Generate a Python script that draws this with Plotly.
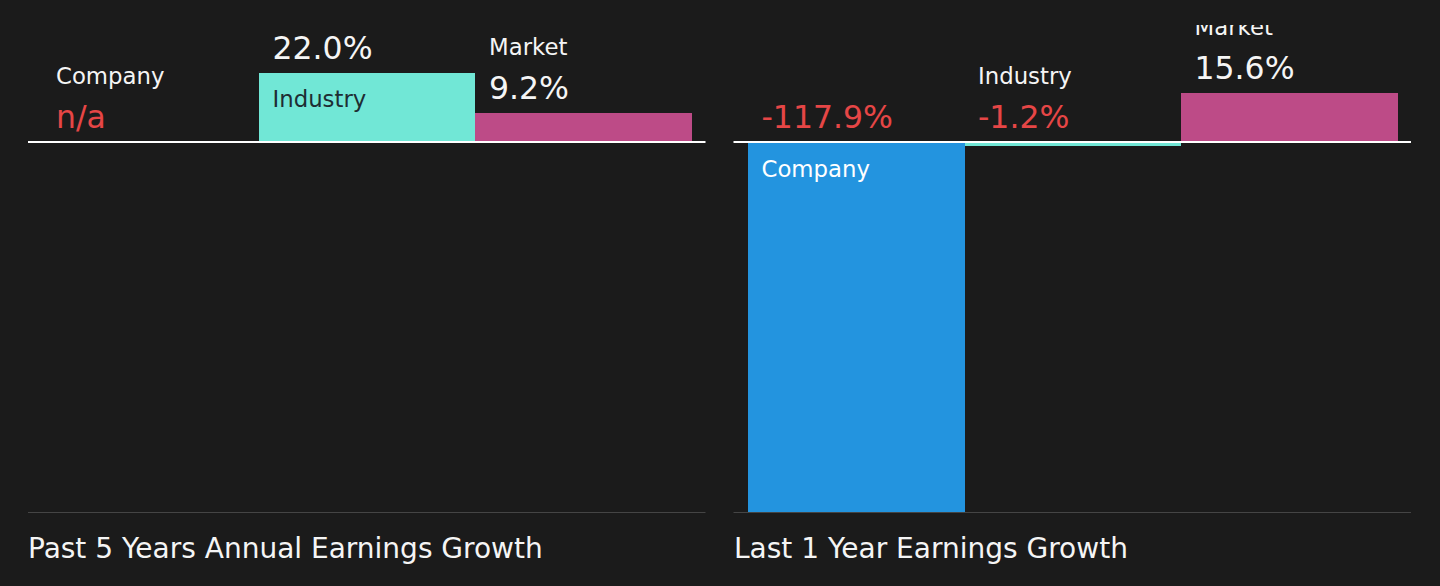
import plotly.graph_objects as go

# data
categories = ["Company", "Industry", "Market"]
past_5y_growth = [None, 22.0, 9.2]      # Company value is n/a
last_1y_growth = [-117.9, -1.2, 15.6]
panel_titles = ["Past 5 Years Annual Earnings Growth", "Last 1 Year Earnings Growth"]

# styling
BG = "#1b1b1b"
BAR_COLORS = {"Company": "#2394df", "Industry": "#71e7d6", "Market": "#bd4b87"}
INSIDE_TEXT = {"Company": "#ffffff", "Industry": "#1e2d33", "Market": "#ffffff"}
RED = "#e64646"
WHITE = "#f5f5f5"
FONT = "DejaVu Sans"

W, H = 1440, 586
M_L, M_R, M_T, M_B = 28, 29, 25, 73
ZERO_PX = 142            # pixel row of the zero line
PLOT_H = H - M_T - M_B
PLOT_W = W - M_L - M_R
GAP_PX = 28              # gap between the two panels
PAD_PX = 14              # space between panel edge and first/last bar

all_vals = [v for v in past_5y_growth + last_1y_growth if v is not None]
y_min = min(all_vals)
y_max = -y_min * (ZERO_PX - M_T) / (H - M_B - ZERO_PX)
px_per_unit = PLOT_H / (y_max - y_min)

panel_w = (PLOT_W - GAP_PX) / 2
bar_px = (panel_w - 2 * PAD_PX) / 3
pad = PAD_PX / bar_px
x_range = [-0.5 - pad, 2.5 + pad]

fig = go.Figure()


def add_panel(values, xa, ya):
    xs = list(range(len(categories)))
    fig.add_trace(go.Bar(
        x=xs, y=values, width=1,
        marker=dict(color=[BAR_COLORS[c] for c in categories], line=dict(width=0)),
        xaxis=xa, yaxis=ya, hoverinfo="skip", showlegend=False,
    ))

    name_y, name_col, val_y, val_txt, val_col = [], [], [], [], []
    for c, v in zip(categories, values):
        top = max(v, 0) if v is not None else 0
        val_y.append(top + 22 / px_per_unit)
        val_txt.append("n/a" if v is None else f"{v:.1f}%")
        val_col.append(RED if v is None or v < 0 else WHITE)
        if v is not None and abs(v) > 20:
            # big bar: name goes inside the bar
            name_y.append(top - 29 / px_per_unit)
            name_col.append(INSIDE_TEXT[c])
        else:
            name_y.append(top + 64 / px_per_unit)
            name_col.append(WHITE)

    tx = [i - 0.5 + pad for i in xs]
    fig.add_trace(go.Scatter(
        x=tx, y=name_y, mode="text", text=categories, textposition="middle right",
        textfont=dict(family=FONT, size=22.8, color=name_col), cliponaxis=True,
        xaxis=xa, yaxis=ya, hoverinfo="skip", showlegend=False,
    ))
    fig.add_trace(go.Scatter(
        x=tx, y=val_y, mode="text", text=val_txt, textposition="middle right",
        textfont=dict(family=FONT, size=31.5, color=val_col), cliponaxis=True,
        xaxis=xa, yaxis=ya, hoverinfo="skip", showlegend=False,
    ))


add_panel(past_5y_growth, "x", "y")
add_panel(last_1y_growth, "x2", "y2")

d1 = panel_w / PLOT_W
d2 = (panel_w + GAP_PX) / PLOT_W
axis_common = dict(showgrid=False, zeroline=False, showticklabels=False, ticks="", fixedrange=True)

fig.update_layout(
    width=W, height=H,
    margin=dict(l=M_L, r=M_R, t=M_T, b=M_B),
    paper_bgcolor=BG, plot_bgcolor=BG,
    bargap=0,
    font=dict(family=FONT, color=WHITE),
    xaxis=dict(domain=[0, d1], range=x_range, **axis_common),
    xaxis2=dict(domain=[d2, 1], range=x_range, **axis_common),
    yaxis=dict(range=[y_min, y_max], **axis_common),
    yaxis2=dict(range=[y_min, y_max], anchor="x2", **axis_common),
)

for i, (xa, ya) in enumerate([("x", "y"), ("x2", "y2")]):
    # bottom rule and zero line
    fig.add_shape(type="line", xref=f"{xa} domain", yref=ya, x0=0, x1=1, y0=y_min, y1=y_min,
                  line=dict(color="#454545", width=2), layer="above")
    fig.add_shape(type="line", xref=f"{xa} domain", yref=ya, x0=0, x1=1, y0=0, y1=0,
                  line=dict(color="#ffffff", width=2), layer="above")
    fig.add_annotation(
        text=panel_titles[i], xref=f"{xa} domain", yref="paper",
        x=0, y=-35 / PLOT_H, xanchor="left", yanchor="middle", xshift=-2,
        showarrow=False, font=dict(family=FONT, size=28, color=WHITE),
    )

# drop the default page margin so the figure fills the window
fig.write_html("out.html", config={"displayModeBar": False},
               post_script="document.body.style.margin='0';")
